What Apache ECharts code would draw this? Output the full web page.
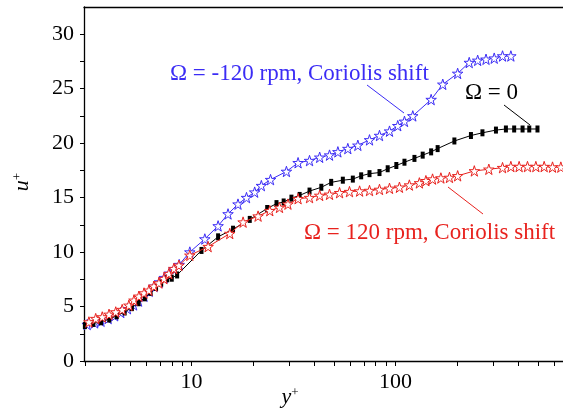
<!DOCTYPE html>
<html><head><meta charset="utf-8">
<script src="https://cdn.jsdelivr.net/npm/echarts@6/dist/echarts.min.js"></script>
<style>html,body{margin:0;padding:0;background:#fff}#c{width:563px;height:412px}</style>
</head><body><div id="c"></div>
<script>
// ---- data ----
const blueX = [3.08,3.35,3.6,3.9,4.2,4.5,4.85,5.2,5.5,5.85,6.2,6.55,6.95,7.35,7.8,8.2,8.7,9.81,11.62,13.5,15.1,16.9,18.6,20.4,22.0,24.4,29.2,33.3,37.9,42.5,47.5,52.2,58.4,65.4,74.6,83.5,93.5,102.6,110.7,121.6,149.6,170.6,201.8,230,253,278,305,335,368];
const blueY = [3.35,3.5,3.65,3.9,4.15,4.45,4.8,5.15,5.5,5.95,6.4,6.85,7.25,7.65,8.05,8.45,8.85,10.0,11.2,12.4,13.5,14.4,15.0,15.5,16.1,16.65,17.4,18.2,18.4,18.7,18.9,19.2,19.5,19.8,20.3,20.7,21.1,21.6,22.0,22.5,24.0,25.4,26.4,27.4,27.6,27.7,27.8,28.0,28.0];
const blackX = [3.0,3.3,3.6,3.95,4.3,4.7,5.1,5.5,5.9,6.3,6.7,7.1,7.6,8.0,8.5,11.19,13.5,15.98,19.3,23.5,26.1,28.3,30.9,33.9,37.9,43.3,48.4,55.2,61.8,67.9,74.6,83.5,91.6,101,110.7,123.9,136,149.6,161,194.5,234.5,267,311,348,382,420,453,497];
const blackY = [3.25,3.45,3.6,3.85,4.15,4.5,4.9,5.35,5.8,6.3,6.75,7.15,7.55,7.6,7.9,10.15,11.4,12.1,13.0,14.0,14.45,14.6,14.95,15.2,15.6,15.95,16.4,16.6,16.7,17.0,17.2,17.3,17.65,17.95,18.25,18.6,18.9,19.2,19.5,20.2,20.7,20.95,21.2,21.3,21.3,21.3,21.3,21.3];
const redX = [3.14,3.39,3.65,3.94,4.25,4.57,4.93,5.22,5.52,5.85,6.18,6.54,6.92,7.32,7.74,8.19,8.67,9.81,12.06,15.4,17.9,21.2,24.2,27.0,29.7,33.3,37.9,42.5,47.5,53.2,59.5,66.7,74.6,83.5,93.5,104.6,117,131,141,152,167,184,201.8,243.6,287,335,368,404,444,488,536,589,647];
const redY = [3.58,3.89,4.04,4.28,4.5,4.72,5.11,5.57,5.94,6.24,6.49,6.86,7.16,7.56,8.02,8.48,8.78,9.7,10.5,11.7,12.75,13.3,13.8,14.1,14.4,14.9,15.0,15.2,15.3,15.45,15.55,15.6,15.65,15.75,15.85,15.95,16.15,16.35,16.55,16.7,16.8,16.85,17.0,17.45,17.6,17.75,17.85,17.85,17.85,17.85,17.85,17.8,17.8];
const xTickLabels = [10,100];
const xTicks = [3,4,5,6,7,8,9,10,20,30,40,50,60,70,80,90,100,200,300,400,500,600];
const yTickLabels = [0,5,10,15,20,25,30];
const yTicks = [0,2.5,5,7.5,10,12.5,15,17.5,20,22.5,25,27.5,30];
const labelBlue = 'Ω = -120 rpm, Coriolis shift';
const labelBlack = 'Ω = 0';
const labelRed = 'Ω = 120 rpm, Coriolis shift';

const pair = (xs, ys) => xs.map((x, i) => [x, ys[i]]);
const STAR = 'path://M50,2 L61.2,36.4 L97.5,36.4 L68.2,57.7 L79.4,92.1 L50,70.9 L20.6,92.1 L31.8,57.7 L2.5,36.4 L38.8,36.4 Z';
const BLUE = '#3b2cf5', RED = '#e8221e';
const FONT = '"Liberation Serif","Times New Roman",serif';

const chart = echarts.init(document.getElementById('c'), null, {renderer: 'canvas'});
chart.setOption({
  animation: false,
  backgroundColor: '#fff',
  grid: {left: 84, right: 0, top: 7, bottom: 51},
  xAxis: [{
    type: 'log', min: 2.97, max: 663, logBase: 10,
    axisLine: {lineStyle: {color: '#000', width: 1.3}},
    axisTick: {show: true, inside: false, length: 5, customValues: xTicks, lineStyle: {color: '#000'}},
    minorTick: {show: false},
    axisLabel: {customValues: xTickLabels, color: '#000', fontFamily: FONT, fontSize: 22, margin: 10},
    splitLine: {show: false}
  }, {
    type: 'log', min: 2.97, max: 663, position: 'top',
    axisLine: {show: true, lineStyle: {color: '#000', width: 1.3}},
    axisTick: {show: false}, axisLabel: {show: false}, splitLine: {show: false}
  }],
  yAxis: {
    type: 'value', min: 0, max: 32.5,
    axisLine: {show: true, lineStyle: {color: '#000', width: 1.3}},
    axisTick: {show: true, inside: false, length: 4, customValues: yTicks, lineStyle: {color: '#000'}},
    axisLabel: {customValues: yTickLabels, color: '#000', fontFamily: FONT, fontSize: 22, margin: 10},
    splitLine: {show: false}
  },
  series: [
    {type: 'line', data: pair(redX, redY), symbol: STAR, symbolSize: 10.5, z: 3,
     lineStyle: {color: RED, width: 1}, itemStyle: {color: '#fff', borderColor: RED, borderWidth: 1}},
    {type: 'line', data: pair(blackX, blackY), symbol: 'rect', symbolSize: [4, 7], z: 2,
     lineStyle: {color: '#000', width: 1}, itemStyle: {color: '#000'}},
    {type: 'line', data: pair(blueX, blueY), symbol: STAR, symbolSize: 10.5, z: 1,
     lineStyle: {color: BLUE, width: 1}, itemStyle: {color: '#fff', borderColor: BLUE, borderWidth: 1}}
  ],
  graphic: [
    {type: 'text', x: 170, y: 74, style: {text: labelBlue, fill: BLUE, font: '23px ' + FONT, textVerticalAlign: 'middle'}},
    {type: 'line', shape: {x1: 367, y1: 85, x2: 404, y2: 113}, style: {stroke: BLUE, lineWidth: 1}},
    {type: 'text', x: 465, y: 93, style: {text: labelBlack, fill: '#000', font: '23px ' + FONT, textVerticalAlign: 'middle'}},
    {type: 'line', shape: {x1: 504, y1: 105, x2: 530, y2: 125}, style: {stroke: '#000', lineWidth: 1}},
    {type: 'text', x: 304, y: 233, style: {text: labelRed, fill: RED, font: '23px ' + FONT, textVerticalAlign: 'middle'}},
    {type: 'line', shape: {x1: 448, y1: 187, x2: 483, y2: 214}, style: {stroke: RED, lineWidth: 1}},
    {type: 'text', x: 290, y: 397, style: {text: '{a|y}{b|+}', textAlign: 'center', textVerticalAlign: 'middle',
      rich: {a: {font: 'italic 22px ' + FONT, fill: '#000'}, b: {font: '13px ' + FONT, fill: '#000', verticalAlign: 'top'}}}},
    {type: 'text', x: 22, y: 182, rotation: Math.PI / 2, style: {text: '{a|u}{b|+}', textAlign: 'center', textVerticalAlign: 'middle',
      rich: {a: {font: 'italic 22px ' + FONT, fill: '#000'}, b: {font: '13px ' + FONT, fill: '#000', verticalAlign: 'top'}}}}
  ]
});
</script></body></html>
